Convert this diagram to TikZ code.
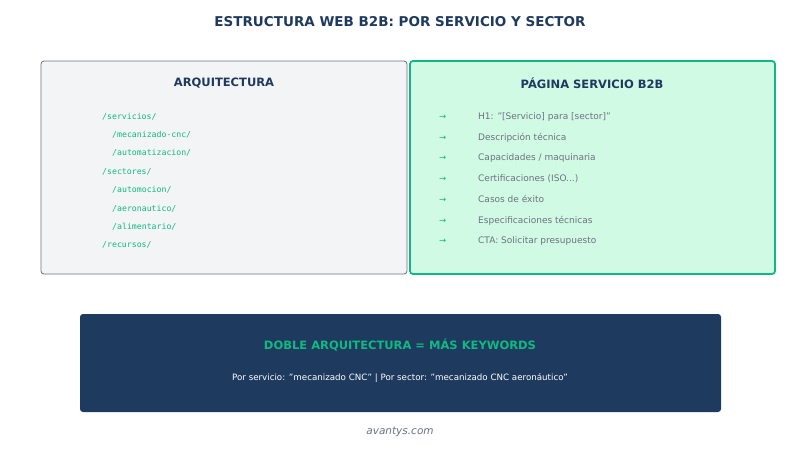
\documentclass[tikz,border=0pt]{standalone}
\usepackage{fontspec}
\setmainfont{DejaVu Sans}
\setmonofont{DejaVu Sans Mono}
\definecolor{navy}{HTML}{1E3A5F}
\definecolor{grn}{HTML}{10B981}
\definecolor{lgrn}{HTML}{D1FAE5}
\definecolor{lgray}{HTML}{F3F4F6}
\definecolor{txtg}{HTML}{6B7280}
\newcommand{\q}{\symbol{"22}}
\begin{document}
\begin{tikzpicture}[x=1pt,y=-1pt,
  box/.style={rounded corners=3pt},
  hdr/.style={font=\fontsize{11.5}{13}\selectfont\bfseries,text=navy},
  code/.style={font=\ttfamily\fontsize{8.2}{9}\selectfont,text=grn,anchor=base west,inner sep=0},
  item/.style={font=\fontsize{9}{10}\selectfont,text=txtg,anchor=base west,inner sep=0},
  arr/.style={font=\fontsize{8.5}{10}\selectfont,text=grn,anchor=base west,inner sep=0}]
\useasboundingbox (0,0) rectangle (800,450);
\fill[white] (0,0) rectangle (800,450);
\node[font=\fontsize{13.5}{15}\selectfont\bfseries,text=navy] (title) at (400,22) {ESTRUCTURA WEB B2B: POR SERVICIO Y SECTOR};
\draw[box,fill=lgray,draw=txtg,line width=0.8pt] (41,61) rectangle (407,274);
\node[hdr] (h1) at (224,83) {ARQUITECTURA};
\node[code] (c0) at (102,119) {/servicios/};
\node[code] (c1) at (112,137.4) {/mecanizado-cnc/};
\node[code] (c2) at (112,155.8) {/automatizacion/};
\node[code] (c3) at (102,174.2) {/sectores/};
\node[code] (c4) at (112,192.6) {/automocion/};
\node[code] (c5) at (112,211) {/aeronautico/};
\node[code] (c6) at (112,229.4) {/alimentario/};
\node[code] (c7) at (102,247.8) {/recursos/};
\draw[box,fill=lgrn,draw=grn,line width=1.8pt] (410,61) rectangle (775,274);
\node[hdr] (h2) at (592,83) {PÁGINA SERVICIO B2B};
\node[item] (t0) at (478,119.5) {H1: \q[Servicio] para [sector]\q};
\node[item] (t1) at (478,140.2) {Descripción técnica};
\node[item] (t2) at (478,160.9) {Capacidades / maquinaria};
\node[item] (t3) at (478,181.6) {Certificaciones (ISO...)};
\node[item] (t4) at (478,202.3) {Casos de éxito};
\node[item] (t5) at (478,223) {Especificaciones técnicas};
\node[item] (t6) at (478,243.7) {CTA: Solicitar presupuesto};
\foreach \i in {0,...,6}
  \node[arr] (a\i) at (439,{119.5+\i*20.7}) {→};
\fill[box,navy] (80,314) rectangle (721,412);
\node[font=\fontsize{11.5}{13}\selectfont\bfseries,text=grn] (bt) at (400,345) {DOBLE ARQUITECTURA = MÁS KEYWORDS};
\node[font=\fontsize{8.7}{10}\selectfont,text=white] (bs) at (400,378) {Por servicio: \q mecanizado CNC\q{} | Por sector: \q mecanizado CNC aeronáutico\q};
\node[font=\fontsize{10.5}{12}\selectfont\itshape,text=txtg] (ft) at (400,432) {avantys.com};
\end{tikzpicture}
\end{document}
